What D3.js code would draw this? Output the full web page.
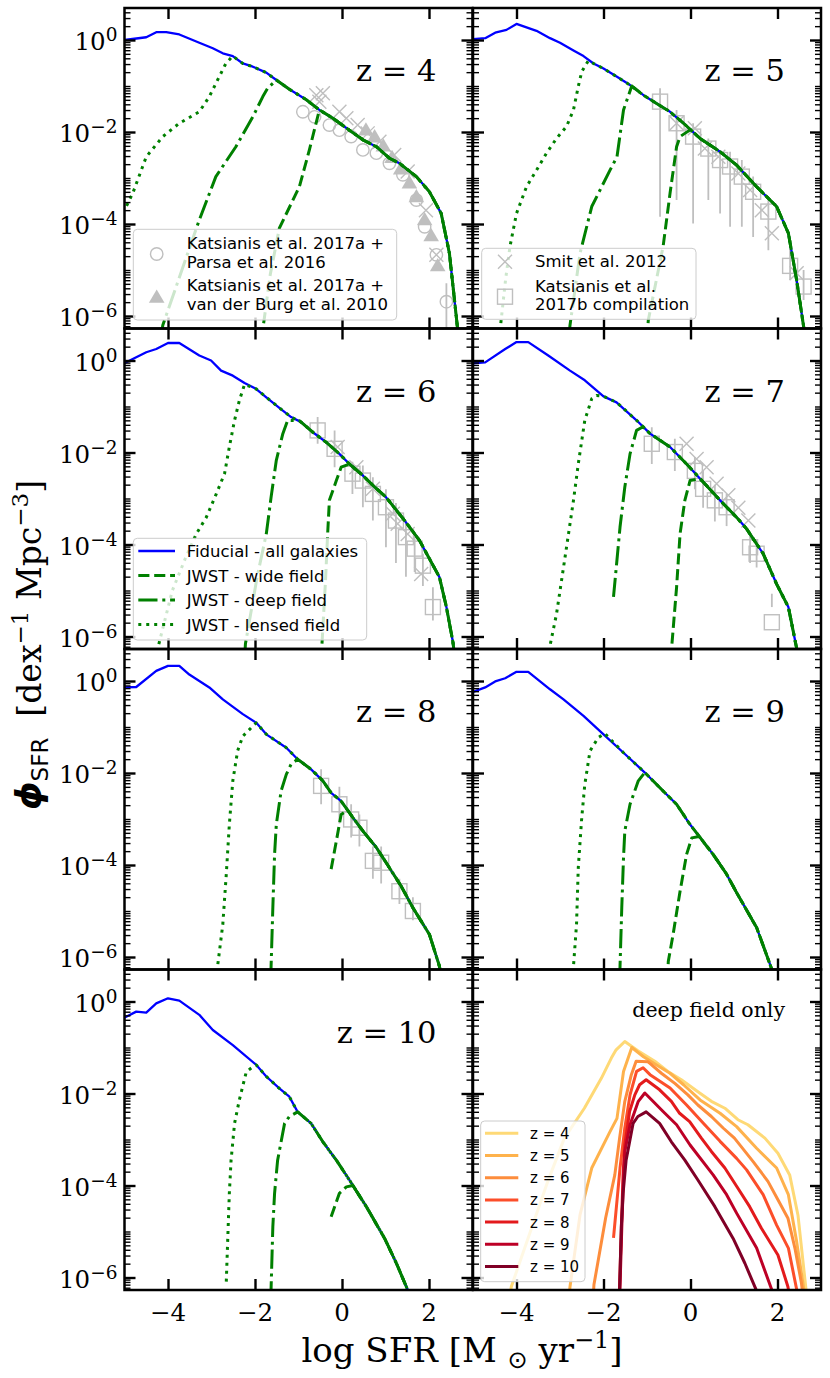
<!DOCTYPE html>
<html><head><meta charset="utf-8">
<script src="https://cdn.jsdelivr.net/npm/d3@7"></script>
<style>body{margin:0;background:#fff}svg{display:block}</style>
</head><body>
<svg id="c" width="830" height="1378"></svg>
<script>
// ---------------- DATA (x = log SFR, y = log10 phi) ----------------
const redshifts = [4,5,6,7,8,9,10];
const xTicks = [-4,-2,0,2];
const yTickExp = [0,-2,-4,-6];

const fid4 = [[-5,0],[-4.5,0.06],[-4.27,0.17],[-4.04,0.17],[-3.74,0.12],[-3.28,-0.06],[-2.97,-0.18],[-2.74,-0.29],[-2.51,-0.35],[-2.28,-0.51],[-2.05,-0.58],[-1.74,-0.71],[-1.51,-0.87],[-1.21,-1.07],[-0.82,-1.30],[-0.52,-1.52],[-0.21,-1.70],[0.17,-1.96],[0.48,-2.17],[0.79,-2.32],[1.09,-2.57],[1.32,-2.68],[1.71,-2.97],[2.01,-3.30],[2.28,-3.77],[2.47,-4.64],[2.66,-6.3],[2.68,-6.5]];
const lens4 = [[-5.05,-3.75],[-4.96,-3.62],[-4.81,-3.33],[-4.5,-2.54],[-4.12,-2.10],[-3.74,-1.81],[-3.28,-1.56],[-3.05,-1.23],[-2.67,-0.51],[-2.51,-0.35]];
const deep4 = [[-4.16,-6.5],[-4.12,-6.2],[-3.28,-3.91],[-2.90,-2.97],[-2.44,-2.32],[-2.05,-1.67],[-1.82,-1.23],[-1.71,-1.05],[-1.51,-0.87]];
const wide4 = [[-1.85,-6.5],[-1.65,-5.1],[-1.44,-4.09],[-0.98,-3.19],[-0.75,-2.39],[-0.52,-1.52]];

const fid5 = [[-5.0,0.02],[-4.72,0.04],[-4.49,0.16],[-4.23,0.22],[-4.0,0.35],[-3.54,0.20],[-3.23,0.04],[-3.0,-0.06],[-2.69,-0.23],[-2.46,-0.35],[-2.23,-0.51],[-2.0,-0.62],[-1.69,-0.80],[-1.39,-0.98],[-1.08,-1.20],[-0.78,-1.38],[-0.47,-1.56],[-0.16,-1.81],[0.22,-2.14],[0.68,-2.43],[1.06,-2.72],[1.52,-3.19],[1.98,-3.62],[2.25,-4.20],[2.44,-5.22],[2.62,-6.35],[2.64,-6.5]];
const lens5 = [[-4.4,-6.5],[-4.25,-5.2],[-4.15,-4.49],[-4.0,-3.77],[-3.77,-3.19],[-3.54,-2.83],[-3.31,-2.46],[-3.08,-2.14],[-2.85,-1.88],[-2.69,-1.52],[-2.58,-1.01],[-2.50,-0.69],[-2.35,-0.45]];
const deep5 = [[-2.80,-6.5],[-2.77,-6.20],[-2.54,-4.64],[-2.27,-3.62],[-1.85,-2.83],[-1.69,-2.54],[-1.54,-1.52],[-1.35,-1.0]];
const wide5 = [[-1.0,-6.5],[-0.97,-6.09],[-0.63,-4.49],[-0.47,-3.33],[-0.32,-2.32],[-0.24,-2.10],[-0.13,-2.03],[0.0,-1.95]];

const fid6 = [[-5.0,-0.06],[-4.96,-0.04],[-4.50,0.18],[-4.27,0.25],[-4.0,0.38],[-3.74,0.38],[-3.28,0.11],[-3.01,0.0],[-2.78,-0.22],[-2.51,-0.33],[-2.24,-0.49],[-1.97,-0.62],[-1.74,-0.80],[-1.44,-1.03],[-1.17,-1.23],[-0.94,-1.34],[-0.67,-1.56],[-0.36,-1.78],[-0.06,-2.03],[0.17,-2.25],[0.48,-2.50],[0.75,-2.75],[1.01,-2.97],[1.44,-3.48],[1.78,-3.91],[2.01,-4.31],[2.24,-4.71],[2.40,-5.36],[2.55,-6.12],[2.6,-6.5]];
const lens6 = [[-4.3,-6.5],[-3.9,-5.0],[-3.6,-4.3],[-3.35,-3.77],[-3.12,-3.41],[-2.89,-2.90],[-2.70,-2.46],[-2.59,-1.88],[-2.47,-1.30],[-2.36,-0.87],[-2.24,-0.52]];
const deep6 = [[-2.24,-6.5],[-2.22,-6.16],[-1.95,-4.7],[-1.74,-3.77],[-1.63,-2.97],[-1.51,-2.17],[-1.36,-1.59],[-1.25,-1.30],[-0.98,-1.31]];
const wide6 = [[-0.47,-6.5],[-0.46,-6.16],[-0.38,-4.8],[-0.33,-3.77],[-0.29,-3.04],[-0.13,-2.61],[-0.02,-2.32],[0.17,-2.25]];

const fid7 = [[-5.0,-0.06],[-4.72,-0.04],[-4.26,0.25],[-4.0,0.40],[-3.73,0.40],[-3.27,0.11],[-2.77,-0.22],[-2.43,-0.43],[-2.00,-0.78],[-1.70,-0.91],[-1.24,-1.30],[-0.93,-1.59],[-0.47,-1.88],[-0.09,-2.25],[0.29,-2.64],[0.68,-3.04],[1.06,-3.41],[1.29,-3.66],[1.67,-4.20],[1.98,-4.86],[2.25,-5.36],[2.46,-6.35],[2.48,-6.5]];
const lens7 = [[-3.26,-6.5],[-3.23,-6.20],[-3.08,-5.51],[-2.85,-4.06],[-2.69,-3.04],[-2.58,-2.25],[-2.43,-1.30],[-2.27,-0.83],[-2.16,-0.76],[-2.0,-0.78]];
const deep7 = [[-1.77,-5.14],[-1.62,-3.62],[-1.51,-2.75],[-1.39,-2.03],[-1.24,-1.52],[-1.09,-1.44]];
const wide7 = [[-0.45,-6.5],[-0.43,-6.20],[-0.32,-4.93],[-0.24,-3.77],[-0.13,-3.04],[-0.01,-2.61],[0.22,-2.57]];

const fid8 = [[-5.0,-0.14],[-4.73,-0.13],[-4.27,0.22],[-4.0,0.33],[-3.74,0.33],[-3.51,0.14],[-3.05,-0.14],[-2.74,-0.40],[-2.28,-0.72],[-1.97,-0.91],[-1.74,-1.16],[-1.28,-1.45],[-1.02,-1.70],[-0.71,-1.92],[-0.44,-2.17],[-0.25,-2.43],[-0.02,-2.61],[0.25,-2.97],[0.48,-3.26],[0.79,-3.62],[1.09,-4.06],[1.36,-4.46],[1.63,-4.93],[2.01,-5.51],[2.24,-6.20],[2.29,-6.5]];
const lens8 = [[-2.88,-6.5],[-2.86,-6.20],[-2.74,-5.29],[-2.66,-4.20],[-2.59,-3.12],[-2.51,-2.17],[-2.40,-1.52],[-2.28,-1.20],[-2.05,-0.98],[-1.97,-0.91]];
const deep8 = [[-1.64,-6.5],[-1.63,-6.20],[-1.59,-4.93],[-1.55,-3.77],[-1.51,-3.12],[-1.40,-2.39],[-1.28,-2.03],[-1.17,-1.81],[-1.02,-1.70]];
const wide8 = [[-0.25,-4.09],[-0.13,-3.48],[-0.02,-2.90],[0.13,-2.81]];

const fid9 = [[-5.0,-0.24],[-4.95,-0.22],[-4.72,-0.14],[-4.49,-0.01],[-4.26,0.06],[-4.0,0.20],[-3.73,0.20],[-3.23,-0.18],[-2.92,-0.40],[-2.46,-0.76],[-2.00,-1.16],[-1.54,-1.56],[-1.05,-1.99],[-0.63,-2.39],[-0.32,-2.68],[-0.01,-3.12],[0.52,-3.77],[0.83,-4.20],[1.06,-4.60],[1.52,-5.36],[1.87,-6.27],[1.92,-6.5]];
const lens9 = [[-2.70,-6.5],[-2.69,-6.20],[-2.62,-5.29],[-2.58,-4.06],[-2.50,-2.97],[-2.43,-2.25],[-2.31,-1.52],[-2.12,-1.23],[-1.97,-1.14]];
const deep9 = [[-1.63,-6.5],[-1.62,-6.20],[-1.58,-4.93],[-1.54,-3.84],[-1.51,-3.26],[-1.39,-2.68],[-1.20,-2.17],[-1.05,-1.99]];
const wide9 = [[-0.53,-6.5],[-0.51,-6.09],[-0.40,-5.51],[-0.24,-4.57],[-0.09,-3.77],[0.03,-3.41],[0.2,-3.38]];

const fid10 = [[-5.0,-0.35],[-4.96,-0.33],[-4.73,-0.22],[-4.50,-0.24],[-4.27,-0.04],[-4.0,0.07],[-3.74,0.02],[-3.28,-0.29],[-2.97,-0.62],[-2.51,-0.95],[-1.97,-1.38],[-1.74,-1.63],[-1.44,-1.89],[-1.21,-2.07],[-1.02,-2.40],[-0.71,-2.65],[-0.44,-3.05],[-0.13,-3.45],[0.17,-3.88],[0.56,-4.46],[0.98,-5.15],[1.25,-5.69],[1.51,-6.27],[1.56,-6.5]];
const lens10 = [[-2.66,-6.09],[-2.63,-5.26],[-2.59,-4.17],[-2.55,-3.45],[-2.47,-2.65],[-2.36,-2.14],[-2.20,-1.53],[-2.05,-1.42],[-1.97,-1.38]];
const deep10 = [[-1.64,-6.5],[-1.63,-6.23],[-1.59,-4.90],[-1.55,-4.17],[-1.48,-3.45],[-1.32,-2.65],[-1.21,-2.50],[-1.02,-2.40]];
const wide10 = [[-0.25,-4.68],[-0.06,-4.17],[0.10,-4.03],[0.25,-4.0]];

// observations [x, logphi] or [x, logphi, errTop, errBottom]
const parsa4 = [[-0.90,-1.56],[-0.63,-1.67],[-0.29,-1.85],[-0.06,-1.96],[0.21,-2.10],[0.48,-2.39],[0.79,-2.46],[1.09,-2.68],[1.40,-2.93],[1.71,-3.48],[1.90,-4.06],[2.17,-4.67],[2.40,-5.69,-5.29,-6.3]];
const burg4 = [[0.55,-1.95],[0.75,-2.1],[0.95,-2.3],[1.15,-2.55],[1.35,-2.8],[1.55,-3.1],[1.71,-3.4],[1.90,-3.9],[2.05,-4.25],[2.20,-4.9]];
const smit4 = [[-0.59,-1.20],[-0.44,-1.16],[-0.52,-1.34],[-0.06,-1.56],[0.10,-1.70],[0.36,-1.85],[0.59,-2.03],[0.86,-2.21],[1.2,-2.5],[1.51,-2.86],[1.93,-3.70],[2.17,-4.67]];
const smit5 = [[-0.32,-1.81],[0.10,-1.92],[0.33,-2.36],[0.64,-2.54],[1.10,-2.90],[1.37,-3.26],[1.64,-3.70],[1.87,-4.20],[2.44,-5.07]];
const comp5 = [[-0.70,-1.34,-1.05,-3.84],[-0.32,-1.81,-1.52,-3.48],[0.06,-2.10,-1.81,-3.99],[0.41,-2.36,-2.14,-3.48],[0.68,-2.61,-2.39,-3.77],[0.91,-2.75,-2.43,-4.06],[1.18,-2.97,-2.61,-4.06],[1.44,-3.30,-2.97,-4.28],[1.79,-3.73,-3.41,-4.57],[2.29,-4.91,-4.49,-5.22],[2.60,-5.36,-5.0,-5.65]];
const smit6 = [[-0.10,-1.88],[0.33,-2.32],[0.71,-2.79],[1.17,-3.33],[1.28,-3.55],[1.51,-3.77],[1.82,-4.64]];
const comp6 = [[-0.56,-1.52,-1.23,-1.81],[-0.17,-1.92,-1.52,-2.32],[0.24,-2.46,-2.2,-2.9],[0.48,-2.61,-2.28,-3.19],[0.71,-2.90,-2.54,-3.48],[1.01,-3.19,-2.8,-4.06],[1.24,-3.48,-3.1,-4.4],[1.47,-3.84,-3.48,-4.7],[1.67,-4.09,-3.8,-4.6],[1.86,-4.46,-4.2,-4.9],[2.09,-5.36,-4.93,-5.65]];
const smit7 = [[-0.09,-1.81],[0.14,-2.14],[0.37,-2.32],[0.60,-2.68],[0.87,-2.93],[1.10,-3.2],[1.33,-3.48]];
const comp7 = [[-0.89,-1.81,-1.45,-2.25],[-0.36,-1.99,-1.7,-2.4],[0.10,-2.4,-2.1,-2.8],[0.29,-2.79,-2.4,-3.2],[0.56,-3.04,-2.7,-3.5],[0.83,-3.19,-2.9,-3.6],[1.37,-4.06,-3.8,-4.4],[1.52,-4.20,-3.9,-4.5],[1.87,-5.69,-5.07,-5.36]];
const comp8 = [[-0.48,-2.28,-1.92,-2.68],[-0.06,-2.68,-2.3,-3.1],[0.21,-3.01,-2.68,-3.4],[0.40,-3.19,-2.9,-3.6],[0.71,-3.91,-3.6,-4.3],[0.90,-3.95,-3.6,-4.4],[1.32,-4.57,-4.3,-4.85],[1.63,-5.00,-4.7,-5.2]];

const deepColors = ["#fed976","#feb24c","#fd8d3c","#fc4e2a","#e31a1c","#bd0026","#800026"];
const legendObs1 = ["Katsianis et al. 2017a +","Parsa et al. 2016","Katsianis et al. 2017a +","van der Burg et al. 2010"];
const legendObs2 = ["Smit et al. 2012","Katsianis et al.","2017b compilation"];
const legendModel = ["Fiducial - all galaxies","JWST - wide field","JWST - deep field","JWST - lensed field"];

// ---------------- TABLES ----------------
const fidBy = {4:fid4,5:fid5,6:fid6,7:fid7,8:fid8,9:fid9,10:fid10};
const lensBy = {4:lens4,5:lens5,6:lens6,7:lens7,8:lens8,9:lens9,10:lens10};
const deepBy = {4:deep4,5:deep5,6:deep6,7:deep7,8:deep8,9:deep9,10:deep10};
const wideBy = {4:wide4,5:wide5,6:wide6,7:wide7,8:wide8,9:wide9,10:wide10};
function joinFid(rise, fid){ const lx = rise[rise.length-1][0]; return rise.concat(fid.filter(d=>d[0]>lx+0.02)); }

// ---------------- LAYOUT ----------------
const colX=[124.5,473], pw=348;
const rowY=[8,328.5,649,969.5], ph=320.5;
const pxPerDec=46, yTopLog=32/pxPerDec, yBotLog=yTopLog-ph/pxPerDec;
const GREY="#bfbfbf", BLUE="#0000ff", GREEN="#008000";
const SERIF="'DejaVu Serif', serif", SANS="'DejaVu Sans', sans-serif";
const svg=d3.select('#c');
const defs=svg.append('defs');

const styles = {
  wide:{dash:"11.1,4.8"}, deep:{dash:"19.2,4.8,3,4.8"}, lens:{dash:"3,4.95"}
};

function drawMarker(g, type, cx, cy){
  if(type==='circle') g.append('circle').attr('cx',cx).attr('cy',cy).attr('r',6.2).attr('fill','none').attr('stroke',GREY).attr('stroke-width',1.4);
  else if(type==='tri') g.append('path').attr('d',`M${cx},${cy-7.5}L${cx+7.8},${cy+5.8}L${cx-7.8},${cy+5.8}Z`).attr('fill',GREY);
  else if(type==='x') { const h=7; g.append('path').attr('d',`M${cx-h},${cy-h}L${cx+h},${cy+h}M${cx-h},${cy+h}L${cx+h},${cy-h}`).attr('stroke',GREY).attr('stroke-width',1.4).attr('fill','none'); }
  else if(type==='sq') g.append('rect').attr('x',cx-7.5).attr('y',cy-7.5).attr('width',15).attr('height',15).attr('fill','none').attr('stroke',GREY).attr('stroke-width',1.4);
}

const panelsList = [4,5,6,7,8,9,10,'deep'];
panelsList.forEach((key,i)=>{
  const col=i%2,row=Math.floor(i/2);
  const x0=colX[col], y0=rowY[row];
  const x=d3.scaleLinear().domain([-5,3]).range([x0,x0+pw]);
  const y=d3.scaleLog().domain([10**yBotLog,10**yTopLog]).range([y0+ph,y0]);
  const line=d3.line().x(d=>x(d[0])).y(d=>y(10**d[1]));
  const cid='clip'+i;
  defs.append('clipPath').attr('id',cid).append('rect').attr('x',x0).attr('y',y0).attr('width',pw).attr('height',ph);
  const g=svg.append('g').attr('clip-path',`url(#${cid})`);

  const obs = [];
  if(key===4){ obs.push(['circle',parsa4],['tri',burg4],['x',smit4]); }
  if(key===5){ obs.push(['sq',comp5],['x',smit5]); }
  if(key===6){ obs.push(['sq',comp6],['x',smit6]); }
  if(key===7){ obs.push(['sq',comp7],['x',smit7]); }
  if(key===8){ obs.push(['sq',comp8]); }
  obs.forEach(([type,arr])=>{
    arr.forEach(d=>{ if(d.length>2) g.append('line').attr('x1',x(d[0])).attr('x2',x(d[0])).attr('y1',y(10**d[2])).attr('y2',y(10**d[3])).attr('stroke',GREY).attr('stroke-width',1.8); });
    arr.forEach(d=> drawMarker(g,type,x(d[0]),y(10**d[1])));
  });

  if(key!=='deep'){
    const z=key, fid=fidBy[z];
    g.append('path').attr('d',line(fid)).attr('fill','none').attr('stroke',BLUE).attr('stroke-width',2.3).attr('stroke-linejoin','round');
    [['wide',wideBy[z]],['deep',deepBy[z]],['lens',lensBy[z]]].forEach(([k,arr])=>{
      g.append('path').attr('d',line(joinFid(arr,fid))).attr('fill','none').attr('stroke',GREEN).attr('stroke-width',3)
        .attr('stroke-dasharray',styles[k].dash).attr('stroke-linejoin','round');
    });
    svg.append('text').attr('x',x0+pw-36).attr('y',y0+73).attr('text-anchor','end')
      .attr('font-family',SERIF).attr('font-size',30.5).text(`z = ${z}`);
  } else {
    redshifts.forEach((z,j)=>{
      g.append('path').attr('d',line(joinFid(deepBy[z],fidBy[z]))).attr('fill','none').attr('stroke',deepColors[j]).attr('stroke-width',3).attr('stroke-linejoin','round');
    });
    svg.append('text').attr('x',x0+pw-36).attr('y',y0+47.5).attr('text-anchor','end')
      .attr('font-family',SERIF).attr('font-size',20.5).text('deep field only');
  }

  // axes (ticks inward on all sides)
  const ax=svg.append('g').attr('stroke','#000');
  const majY = yTickExp.map(e=>10**e);
  const minY = [];
  for(let e=-7;e<=1;e++) for(let m=1;m<10;m++){ const v=m*10**e; if(v>=10**yBotLog && v<=10**yTopLog && !(m===1 && yTickExp.includes(e))) minY.push(v); }
  const axL = (s,vals,len)=> d3.axisLeft(s).tickValues(vals).tickSize(-len).tickSizeOuter(0).tickFormat('');
  const axR = (s,vals,len)=> d3.axisRight(s).tickValues(vals).tickSize(-len).tickSizeOuter(0).tickFormat('');
  const put=(gen,tx,ty,w)=> ax.append('g').attr('transform',`translate(${tx},${ty})`).call(gen)
      .call(gg=>{gg.select('.domain').remove(); gg.selectAll('line').attr('stroke','#000').attr('stroke-width',w);});
  put(axL(y,majY,11),x0,0,2.4); put(axL(y,minY,6),x0,0,1.4);
  put(axR(y,majY,11),x0+pw,0,2.4); put(axR(y,minY,6),x0+pw,0,1.4);
  put(d3.axisBottom(x).tickValues(xTicks).tickSize(-11).tickSizeOuter(0).tickFormat(''),0,y0+ph,2.4);
  put(d3.axisTop(x).tickValues(xTicks).tickSize(-11).tickSizeOuter(0).tickFormat(''),0,y0,2.4);
  ax.append('rect').attr('x',x0).attr('y',y0).attr('width',pw).attr('height',ph).attr('fill','none').attr('stroke','#000').attr('stroke-width',2.5);

  // tick labels
  if(col===0){
    yTickExp.forEach(e=>{
      const t=svg.append('text').attr('x',x0-7).attr('y',y(10**e)+10).attr('text-anchor','end').attr('font-family',SERIF).attr('font-size',24.5);
      t.append('tspan').text('10');
      t.append('tspan').attr('font-size',18.5).attr('dy',-9).text(e===0?'0':'\u2212'+(-e));
    });
  }
  if(row===3){
    xTicks.forEach(v=>{
      svg.append('text').attr('x',x(v)).attr('y',y0+ph+31).attr('text-anchor','middle').attr('font-family',SERIF).attr('font-size',24.5)
        .text(v<0?'\u2212'+(-v):String(v));
    });
  }

  // legends
  const leg=svg.append('g');
  const box=(bx,by,bw,bh)=>leg.append('rect').attr('x',bx).attr('y',by).attr('width',bw).attr('height',bh).attr('rx',4)
      .attr('fill','#fff').attr('fill-opacity',0.8).attr('stroke','#cccccc').attr('stroke-width',1);
  const txt=(tx,ty,s,fs)=>leg.append('text').attr('x',tx).attr('y',ty).attr('font-family',SANS).attr('font-size',fs).text(s);
  if(key===4){
    box(133.3,229.3,263.4,90.7);
    drawMarker(leg,'circle',156.7,254); drawMarker(leg,'tri',156.7,297);
    txt(186.7,249.3,legendObs1[0],16.5); txt(186.7,267.7,legendObs1[1],16.5);
    txt(186.7,291.3,legendObs1[2],16.5); txt(186.7,310,legendObs1[3],16.5);
  }
  if(key===5){
    box(481.7,248.3,214.3,71);
    drawMarker(leg,'x',505,261.7); drawMarker(leg,'sq',505,296.7);
    txt(535,266.7,legendObs2[0],16.5); txt(535,291.7,legendObs2[1],16.5); txt(535,310,legendObs2[2],16.5);
  }
  if(key===6){
    box(133.3,538.3,233.4,101.7);
    const rows=[551,575.5,600,624.5];
    const st=[[BLUE,2.3,null],[GREEN,3,styles.wide.dash],[GREEN,3,styles.deep.dash],[GREEN,3,styles.lens.dash]];
    rows.forEach((ry,j)=>{
      const l=leg.append('line').attr('x1',138.3).attr('x2',175).attr('y1',ry).attr('y2',ry).attr('stroke',st[j][0]).attr('stroke-width',st[j][1]);
      if(st[j][2]) l.attr('stroke-dasharray',st[j][2]);
      txt(186.7,ry+6,legendModel[j],16.5);
    });
  }
  if(key==='deep'){
    box(480.7,1121,104.3,160.7);
    redshifts.forEach((z,j)=>{
      const ry=1133.3+j*22.2;
      leg.append('line').attr('x1',485).attr('x2',518.3).attr('y1',ry).attr('y2',ry).attr('stroke',deepColors[j]).attr('stroke-width',3);
      txt(530,ry+5.5,`z = ${z}`,15);
    });
  }
});

// axis titles
const xl=svg.append('text').attr('x',462).attr('y',1362).attr('text-anchor','middle').attr('font-family',SERIF).attr('font-size',34);
xl.append('tspan').text('log SFR [M\u00a0');
xl.append('tspan').attr('font-size',24).attr('dy',6).attr('font-family',SANS).text('\u2299');
xl.append('tspan').attr('dy',-6).text('\u00a0yr');
xl.append('tspan').attr('font-size',24).attr('dy',-14).text('\u22121');
xl.append('tspan').attr('dy',14).text(']');

const yl=svg.append('text').attr('transform','translate(41,645) rotate(-90)').attr('text-anchor','middle').attr('font-family',SERIF).attr('font-size',33);
yl.append('tspan').attr('font-family',SANS).attr('font-style','italic').attr('font-weight','bold').attr('font-size',36).text('\u03d5');
yl.append('tspan').attr('font-family',SANS).attr('font-size',23).attr('dy',7).text('SFR');
yl.append('tspan').attr('dy',-7).text('\u00a0\u00a0[dex');
yl.append('tspan').attr('font-size',23).attr('dy',-13).text('\u22121');
yl.append('tspan').attr('dy',13).text('\u00a0Mpc');
yl.append('tspan').attr('font-size',23).attr('dy',-13).text('\u22123');
yl.append('tspan').attr('dy',13).text(']');
</script>
</body></html>
